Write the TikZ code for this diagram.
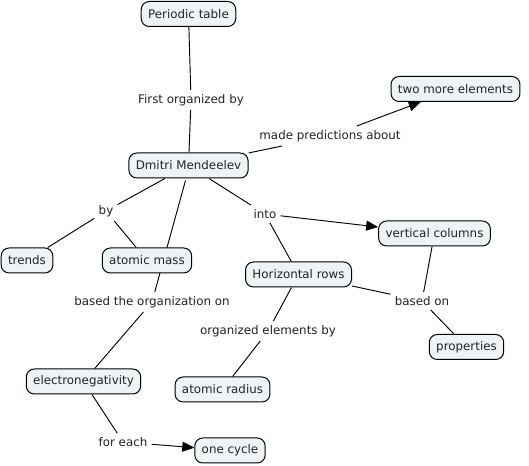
\documentclass[tikz,border=0pt]{standalone}
\usepackage{fontspec}
\setmainfont{DejaVu Sans}
\usetikzlibrary{arrows.meta,backgrounds}
\definecolor{nodefill}{HTML}{EEF3F5}
\definecolor{txt}{HTML}{222222}
\begin{document}
\begin{tikzpicture}[x=0.75pt,y=-0.75pt,
  concept/.style={draw=black,fill=nodefill,rounded corners=6pt,line width=0.75pt,
    minimum height=18.75pt,inner xsep=5.2pt,inner ysep=2pt,text=txt,
    font=\fontsize{8.9pt}{10.5pt}\selectfont},
  phrase/.style={inner sep=3pt,text=txt,font=\fontsize{8.9pt}{10.5pt}\selectfont},
  link/.style={draw=black,line width=0.7pt},
  arr/.style={link,-{Triangle[length=9pt,width=7.5pt]}}]
\useasboundingbox (0,0) rectangle (529,466);
% concepts
\node[concept] (pt) at (188.5,14) {Periodic table};
\node[concept] (two) at (455.5,89) {two more elements};
\node[concept] (dm) at (188.5,165.5) {Dmitri Mendeelev};
\node[concept] (tr) at (27,260.5) {trends};
\node[concept] (am) at (147,260.5) {atomic mass};
\node[concept] (vc) at (434.5,233.5) {vertical columns};
\node[concept] (hr) at (298.5,274.5) {Horizontal rows};
\node[concept] (pr) at (466.5,347) {properties};
\node[concept] (en) at (83.5,381.5) {electronegativity};
\node[concept] (ar) at (222.5,389.5) {atomic radius};
\node[concept] (oc) at (230,450.5) {one cycle};
% linking phrases
\node[phrase] (fob) at (191,100) {First organized by};
\node[phrase] (mpa) at (330,136) {made predictions about};
\node[phrase] (by) at (106,211) {by};
\node[phrase] (into) at (265,214) {into};
\node[phrase] (bon) at (152,302) {based the organization on};
\node[phrase] (bo) at (422,301) {based on};
\node[phrase] (oeb) at (268,331) {organized elements by};
\node[phrase] (fe) at (123,442) {for each};
% connectors
\begin{scope}[on background layer]
\draw[link] (pt) -- (fob);
\draw[link] (fob) -- (dm);
\draw[link] (dm) -- (mpa);
\draw[arr] (mpa) -- (two);
\draw[link] (dm) -- (by);
\draw[link] (by) -- (tr);
\draw[link] (by) -- (am);
\draw[link] (dm.south) ++(-3,2) -- (bon);
\draw[link] (bon) -- (en);
\draw[link] (dm) -- (into);
\draw[arr] (into) -- (vc);
\draw[link] (into) -- (hr);
\draw[link] (vc) -- (bo);
\draw[link] (hr) -- (bo);
\draw[link] (bo) -- (pr);
\draw[link] (hr) -- (oeb);
\draw[link] (oeb) -- (ar);
\draw[link] (en) -- (fe);
\draw[arr] (fe) -- (oc);
\end{scope}
\end{tikzpicture}
\end{document}
